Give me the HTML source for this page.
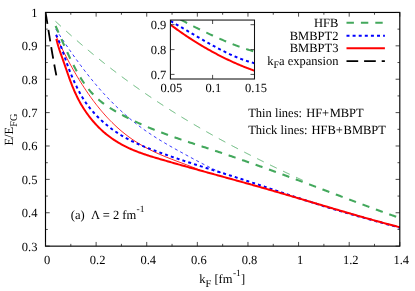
<!DOCTYPE html>
<html><head><meta charset="utf-8"><title>chart</title>
<style>html,body{margin:0;padding:0;background:#fff;}body{width:415px;height:291px;overflow:hidden;font-family:"Liberation Serif",serif;}</style></head>
<body>
<svg width="415" height="291" viewBox="0 0 415 291" style="display:block;will-change:transform">
<rect width="415" height="291" fill="#fff"/>
<defs><clipPath id="c"><rect x="45.5" y="12.45" width="354.3" height="233.70000000000002"/></clipPath><clipPath id="ci"><rect x="170.5" y="20" width="84" height="58.9"/></clipPath></defs>
<g fill="none" clip-path="url(#c)">
<path d="M55.50,21.32 L56.50,22.26 L57.50,23.18 L58.50,24.11 L59.50,25.03 L60.50,25.95 L61.50,26.87 L62.50,27.78 L63.50,28.69 L64.50,29.60 L65.50,30.51 L66.50,31.41 L67.50,32.30 L68.50,33.20 L69.50,34.09 L70.50,34.98 L71.50,35.86 L72.50,36.75 L73.50,37.63 L74.50,38.50 L75.50,39.38 L76.50,40.25 L77.50,41.11 L78.50,41.98 L79.50,42.84 L80.50,43.70 L81.50,44.55 L82.50,45.41 L83.50,46.26 L84.50,47.10 L85.50,47.95 L86.50,48.79 L87.50,49.63 L88.50,50.46 L89.50,51.29 L90.50,52.12 L91.50,52.95 L92.50,53.77 L93.50,54.59 L94.50,55.41 L95.50,56.23 L96.50,57.04 L97.50,57.85 L98.50,58.66 L99.50,59.46 L100.50,60.26 L101.50,61.06 L102.50,61.86 L103.50,62.65 L104.50,63.44 L105.50,64.23 L106.50,65.01 L107.50,65.80 L108.50,66.58 L109.50,67.35 L110.50,68.13 L111.50,68.90 L112.50,69.67 L113.50,70.43 L114.50,71.20 L115.50,71.96 L116.50,72.72 L117.50,73.47 L118.50,74.23 L119.50,74.98 L120.50,75.73 L121.50,76.47 L122.50,77.22 L123.50,77.96 L124.50,78.70 L125.50,79.43 L126.50,80.17 L127.50,80.90 L128.50,81.62 L129.50,82.35 L130.50,83.07 L131.50,83.80 L132.50,84.51 L133.50,85.23 L134.50,85.94 L135.50,86.66 L136.50,87.37 L137.50,88.07 L138.50,88.78 L139.50,89.48 L140.50,90.18 L141.50,90.88 L142.50,91.57 L143.50,92.26 L144.50,92.95 L145.50,93.64 L146.50,94.33 L147.50,95.01 L148.50,95.69 L149.50,96.37 L150.50,97.05 L151.50,97.72 L152.50,98.40 L153.50,99.07 L154.50,99.74 L155.50,100.40 L156.50,101.07 L157.50,101.73 L158.50,102.39 L159.50,103.04 L160.50,103.70 L161.50,104.35 L162.50,105.00 L163.50,105.65 L164.50,106.30 L165.50,106.94 L166.50,107.59 L167.50,108.23 L168.50,108.87 L169.50,109.50 L170.50,110.14 L171.50,110.77 L172.50,111.40 L173.50,112.03 L174.50,112.65 L175.50,113.28 L176.50,113.90 L177.50,114.52 L178.50,115.14 L179.50,115.76 L180.50,116.37 L181.50,116.99 L182.50,117.60 L183.50,118.21 L184.50,118.81 L185.50,119.42 L186.50,120.02 L187.50,120.62 L188.50,121.22 L189.50,121.82 L190.50,122.42 L191.50,123.01 L192.50,123.60 L193.50,124.20 L194.50,124.78 L195.50,125.37 L196.50,125.96 L197.50,126.54 L198.50,127.12 L199.50,127.70 L200.50,128.28 L201.50,128.86 L202.50,129.43 L203.50,130.01 L204.50,130.58 L205.50,131.15 L206.50,131.72 L207.50,132.29 L208.50,132.85 L209.50,133.42 L210.50,133.98 L211.50,134.54 L212.50,135.10 L213.50,135.65 L214.50,136.21 L215.50,136.76 L216.50,137.32 L217.50,137.87 L218.50,138.42 L219.50,138.97 L220.50,139.51 L221.50,140.06 L222.50,140.60 L223.50,141.14 L224.50,141.68 L225.50,142.22 L226.50,142.76 L227.50,143.30 L228.50,143.83 L229.50,144.37 L230.50,144.90 L231.50,145.43 L232.50,145.96 L233.50,146.49 L234.50,147.01 L235.50,147.54 L236.50,148.06 L237.50,148.59 L238.50,149.11 L239.50,149.63 L240.50,150.15 L241.50,150.66 L242.50,151.18 L243.50,151.70 L244.50,152.21 L245.50,152.72 L246.50,153.23 L247.50,153.74 L248.50,154.25 L249.50,154.76 L250.50,155.27 L251.50,155.77 L252.50,156.28 L253.50,156.78 L254.50,157.28 L255.50,157.78 L256.50,158.28 L257.50,158.78 L258.50,159.28 L259.50,159.77 L260.50,160.27 L261.50,160.76 L262.50,161.25 L263.50,161.75 L264.50,162.24 L265.50,162.73 L266.50,163.22 L267.50,163.70 L268.50,164.19 L269.50,164.68 L270.50,165.16 L271.50,165.65 L272.50,166.13 L273.50,166.61 L274.50,167.09 L275.50,167.57 L276.50,168.05 L277.50,168.53 L278.50,169.01 L279.50,169.48 L280.50,169.96 L281.50,170.43 L282.50,170.91 L283.50,171.38 L284.50,171.85 L285.50,172.33 L286.50,172.80 L287.50,173.27 L288.50,173.74 L289.50,174.20 L290.50,174.67 L291.50,175.14 L292.50,175.60 L293.50,176.07 L294.50,176.53 L295.50,177.00 L296.50,177.46 L297.50,177.92 L298.50,178.39 L299.50,178.85 L300.50,179.31 L301.50,179.77 L302.50,180.23 L303.50,180.68 L304.50,181.14 L305.50,181.60 L306.00,181.83" stroke="#43A85C" stroke-width="0.85" stroke-dasharray="7.4 7"/>
<path d="M55.80,29.26 L56.80,30.81 L57.80,32.35 L58.80,33.89 L59.80,35.41 L60.80,36.94 L61.80,38.45 L62.80,39.95 L63.80,41.45 L64.80,42.94 L65.80,44.42 L66.80,45.89 L67.80,47.36 L68.80,48.81 L69.80,50.26 L70.80,51.70 L71.80,53.13 L72.80,54.55 L73.80,55.96 L74.80,57.36 L75.80,58.75 L76.80,60.14 L77.80,61.51 L78.80,62.87 L79.80,64.23 L80.80,65.57 L81.80,66.91 L82.80,68.23 L83.80,69.55 L84.80,70.85 L85.80,72.15 L86.80,73.43 L87.80,74.71 L88.80,75.97 L89.80,77.22 L90.80,78.47 L91.80,79.70 L92.80,80.92 L93.80,82.13 L94.80,83.32 L95.80,84.51 L96.80,85.69 L97.80,86.85 L98.80,88.00 L99.80,89.15 L100.80,90.28 L101.80,91.40 L102.80,92.51 L103.80,93.61 L104.80,94.70 L105.80,95.78 L106.80,96.85 L107.80,97.90 L108.80,98.95 L109.80,99.99 L110.80,101.02 L111.80,102.03 L112.80,103.04 L113.80,104.03 L114.80,105.02 L115.80,106.00 L116.80,106.96 L117.80,107.92 L118.80,108.86 L119.80,109.80 L120.80,110.73 L121.80,111.64 L122.80,112.55 L123.80,113.45 L124.80,114.34 L125.80,115.22 L126.80,116.08 L127.80,116.94 L128.80,117.79 L129.80,118.64 L130.80,119.47 L131.80,120.29 L132.80,121.10 L133.80,121.91 L134.80,122.70 L135.80,123.49 L136.80,124.27 L137.80,125.04 L138.80,125.80 L139.80,126.55 L140.80,127.29 L141.80,128.02 L142.80,128.75 L143.80,129.47 L144.80,130.18 L145.80,130.88 L146.80,131.58 L147.80,132.26 L148.80,132.94 L149.80,133.62 L150.80,134.29 L151.80,134.95 L152.80,135.60 L153.80,136.25 L154.80,136.89 L155.80,137.53 L156.80,138.16 L157.80,138.78 L158.80,139.40 L159.80,140.02 L160.80,140.63 L161.80,141.23 L162.80,141.83 L163.80,142.43 L164.80,143.02 L165.80,143.61 L166.80,144.19 L167.80,144.77 L168.80,145.35 L169.80,145.92 L170.80,146.50 L171.80,147.06 L172.80,147.63 L173.80,148.19 L174.80,148.75 L175.80,149.31 L176.80,149.86 L177.80,150.42 L178.80,150.97 L179.80,151.52 L180.80,152.07 L181.80,152.62 L182.80,153.16 L183.80,153.71 L184.80,154.26 L185.80,154.80 L186.80,155.35 L187.80,155.89 L188.80,156.43 L189.80,156.97 L190.80,157.52 L191.80,158.06 L192.80,158.59 L193.80,159.13 L194.80,159.67 L195.80,160.20 L196.80,160.73 L197.80,161.26 L198.80,161.79 L199.80,162.31 L200.80,162.83 L201.80,163.35 L202.80,163.87 L203.80,164.38 L204.80,164.89 L205.80,165.39 L206.80,165.89 L207.80,166.39 L208.80,166.89 L209.80,167.38 L210.80,167.86 L211.80,168.35 L212.80,168.82 L213.80,169.30 L214.80,169.76 L215.80,170.23 L216.80,170.68 L217.80,171.14 L218.80,171.58 L219.80,172.03 L220.80,172.46 L221.80,172.89 L222.80,173.32 L223.80,173.73 L224.80,174.14 L225.00,174.23" stroke="#0000FF" stroke-width="0.85" stroke-dasharray="3 3.1"/>
<path d="M56.00,35.98 L57.00,38.13 L58.00,40.26 L59.00,42.36 L60.00,44.44 L61.00,46.50 L62.00,48.53 L63.00,50.54 L64.00,52.52 L65.00,54.48 L66.00,56.42 L67.00,58.33 L68.00,60.22 L69.00,62.09 L70.00,63.93 L71.00,65.75 L72.00,67.55 L73.00,69.32 L74.00,71.08 L75.00,72.81 L76.00,74.51 L77.00,76.20 L78.00,77.86 L79.00,79.51 L80.00,81.13 L81.00,82.73 L82.00,84.31 L83.00,85.86 L84.00,87.40 L85.00,88.91 L86.00,90.41 L87.00,91.88 L88.00,93.34 L89.00,94.77 L90.00,96.18 L91.00,97.57 L92.00,98.95 L93.00,100.30 L94.00,101.63 L95.00,102.95 L96.00,104.24 L97.00,105.51 L98.00,106.77 L99.00,108.01 L100.00,109.23 L101.00,110.43 L102.00,111.61 L103.00,112.77 L104.00,113.91 L105.00,115.04 L106.00,116.15 L107.00,117.24 L108.00,118.31 L109.00,119.37 L110.00,120.40 L111.00,121.42 L112.00,122.43 L113.00,123.41 L114.00,124.38 L115.00,125.34 L116.00,126.27 L117.00,127.19 L118.00,128.10 L119.00,128.98 L120.00,129.85 L121.00,130.71 L122.00,131.55 L123.00,132.37 L124.00,133.18 L125.00,133.98 L126.00,134.76 L127.00,135.52 L128.00,136.28 L129.00,137.01 L130.00,137.74 L131.00,138.45 L132.00,139.15 L133.00,139.83 L134.00,140.51 L135.00,141.17 L136.00,141.81 L137.00,142.45 L138.00,143.08 L139.00,143.69 L140.00,144.29 L141.00,144.89 L142.00,145.47 L143.00,146.04 L144.00,146.60 L145.00,147.15 L146.00,147.70 L147.00,148.23 L148.00,148.75 L149.00,149.27 L150.00,149.78 L151.00,150.28 L152.00,150.77 L153.00,151.25 L154.00,151.73 L155.00,152.20 L156.00,152.66 L157.00,153.12 L158.00,153.57 L159.00,154.01 L160.00,154.45 L161.00,154.88 L162.00,155.31 L163.00,155.73 L164.00,156.15 L165.00,156.56 L166.00,156.97 L167.00,157.37 L168.00,157.77 L169.00,158.17 L170.00,158.57 L171.00,158.96 L172.00,159.34 L173.00,159.73 L174.00,160.11 L175.00,160.50 L176.00,160.88 L177.00,161.25 L178.00,161.63 L179.00,162.01 L180.00,162.38 L181.00,162.76 L182.00,163.13 L183.00,163.51 L184.00,163.89 L185.00,164.26 L186.00,164.64 L187.00,165.02 L188.00,165.40 L189.00,165.78 L190.00,166.16 L191.00,166.55 L192.00,166.94 L193.00,167.33 L194.00,167.72 L195.00,168.12 L196.00,168.52 L197.00,168.92 L198.00,169.33 L199.00,169.74 L200.00,170.16" stroke="#FF0000" stroke-width="0.85"/>
<path d="M55.60,26.01 L56.60,28.27 L57.60,30.54 L58.60,32.81 L59.60,35.09 L60.60,37.37 L61.60,39.64 L62.60,41.90 L63.60,44.16 L64.60,46.39 L65.60,48.61 L66.60,50.81 L67.60,52.97 L68.60,55.12 L69.60,57.23 L70.60,59.30 L71.60,61.35 L72.60,63.35 L73.60,65.32 L74.60,67.25 L75.60,69.13 L76.60,70.97 L77.60,72.77 L78.60,74.51 L79.60,76.21 L80.60,77.85 L81.60,79.44 L82.60,80.98 L83.60,82.47 L84.60,83.90 L85.60,85.29 L86.60,86.63 L87.60,87.93 L88.60,89.18 L89.60,90.39 L90.60,91.56 L91.60,92.69 L92.60,93.78 L93.60,94.83 L94.60,95.85 L95.60,96.83 L96.60,97.78 L97.60,98.70 L98.60,99.58 L99.60,100.44 L100.60,101.27 L101.60,102.07 L102.60,102.85 L103.60,103.60 L104.60,104.34 L105.60,105.05 L106.60,105.74 L107.60,106.41 L108.60,107.07 L109.60,107.71 L110.60,108.34 L111.60,108.95 L112.60,109.55 L113.60,110.15 L114.60,110.73 L115.60,111.31 L116.60,111.88 L117.60,112.44 L118.60,113.00 L119.60,113.55 L120.60,114.10 L121.60,114.64 L122.60,115.18 L123.60,115.71 L124.60,116.24 L125.60,116.76 L126.60,117.27 L127.60,117.78 L128.60,118.29 L129.60,118.79 L130.60,119.28 L131.60,119.77 L132.60,120.26 L133.60,120.74 L134.60,121.22 L135.60,121.69 L136.60,122.16 L137.60,122.62 L138.60,123.08 L139.60,123.54 L140.60,123.99 L141.60,124.43 L142.60,124.87 L143.60,125.31 L144.60,125.75 L145.60,126.18 L146.60,126.60 L147.60,127.03 L148.60,127.45 L149.60,127.86 L150.60,128.28 L151.60,128.69 L152.60,129.09 L153.60,129.49 L154.60,129.89 L155.60,130.29 L156.60,130.68 L157.60,131.07 L158.60,131.46 L159.60,131.84 L160.60,132.22 L161.60,132.60 L162.60,132.98 L163.60,133.35 L164.60,133.72 L165.60,134.09 L166.60,134.46 L167.60,134.82 L168.60,135.18 L169.60,135.54 L170.60,135.90 L171.60,136.26 L172.60,136.61 L173.60,136.96 L174.60,137.31 L175.60,137.66 L176.60,138.00 L177.60,138.35 L178.60,138.69 L179.60,139.03 L180.60,139.37 L181.60,139.71 L182.60,140.05 L183.60,140.39 L184.60,140.72 L185.60,141.05 L186.60,141.39 L187.60,141.72 L188.60,142.05 L189.60,142.38 L190.60,142.71 L191.60,143.04 L192.60,143.37 L193.60,143.70 L194.60,144.03 L195.60,144.35 L196.60,144.68 L197.60,145.01 L198.60,145.33 L199.60,145.66 L200.60,145.99 L201.60,146.31 L202.60,146.64 L203.60,146.97 L204.60,147.29 L205.60,147.62 L206.60,147.95 L207.60,148.28 L208.60,148.61 L209.60,148.94 L210.60,149.27 L211.60,149.60 L212.60,149.93 L213.60,150.26 L214.60,150.59 L215.60,150.93 L216.60,151.26 L217.60,151.60 L218.60,151.93 L219.60,152.27 L220.60,152.60 L221.60,152.94 L222.60,153.28 L223.60,153.62 L224.60,153.95 L225.60,154.29 L226.60,154.63 L227.60,154.97 L228.60,155.31 L229.60,155.66 L230.60,156.00 L231.60,156.34 L232.60,156.68 L233.60,157.03 L234.60,157.37 L235.60,157.72 L236.60,158.06 L237.60,158.41 L238.60,158.76 L239.60,159.10 L240.60,159.45 L241.60,159.80 L242.60,160.15 L243.60,160.50 L244.60,160.84 L245.60,161.19 L246.60,161.55 L247.60,161.90 L248.60,162.25 L249.60,162.60 L250.60,162.95 L251.60,163.31 L252.60,163.66 L253.60,164.01 L254.60,164.37 L255.60,164.72 L256.60,165.08 L257.60,165.43 L258.60,165.79 L259.60,166.15 L260.60,166.51 L261.60,166.86 L262.60,167.22 L263.60,167.58 L264.60,167.94 L265.60,168.30 L266.60,168.66 L267.60,169.02 L268.60,169.38 L269.60,169.74 L270.60,170.10 L271.60,170.47 L272.60,170.83 L273.60,171.19 L274.60,171.55 L275.60,171.92 L276.60,172.28 L277.60,172.65 L278.60,173.01 L279.60,173.38 L280.60,173.74 L281.60,174.11 L282.60,174.48 L283.60,174.84 L284.60,175.21 L285.60,175.58 L286.60,175.95 L287.60,176.32 L288.60,176.68 L289.60,177.05 L290.60,177.42 L291.60,177.79 L292.60,178.16 L293.60,178.53 L294.60,178.90 L295.60,179.28 L296.60,179.65 L297.60,180.02 L298.60,180.39 L299.60,180.76 L300.60,181.14 L301.60,181.51 L302.60,181.88 L303.60,182.26 L304.60,182.63 L305.60,183.01 L306.60,183.38 L307.60,183.76 L308.60,184.13 L309.60,184.51 L310.60,184.88 L311.60,185.26 L312.60,185.64 L313.60,186.01 L314.60,186.39 L315.60,186.77 L316.60,187.14 L317.60,187.52 L318.60,187.90 L319.60,188.28 L320.60,188.65 L321.60,189.03 L322.60,189.41 L323.60,189.79 L324.60,190.17 L325.60,190.55 L326.60,190.93 L327.60,191.30 L328.60,191.68 L329.60,192.06 L330.60,192.44 L331.60,192.82 L332.60,193.20 L333.60,193.58 L334.60,193.96 L335.60,194.34 L336.60,194.72 L337.60,195.09 L338.60,195.47 L339.60,195.85 L340.60,196.23 L341.60,196.61 L342.60,196.99 L343.60,197.37 L344.60,197.74 L345.60,198.12 L346.60,198.50 L347.60,198.88 L348.60,199.25 L349.60,199.63 L350.60,200.01 L351.60,200.39 L352.60,200.76 L353.60,201.14 L354.60,201.51 L355.60,201.89 L356.60,202.26 L357.60,202.64 L358.60,203.01 L359.60,203.39 L360.60,203.76 L361.60,204.14 L362.60,204.51 L363.60,204.88 L364.60,205.26 L365.60,205.63 L366.60,206.00 L367.60,206.37 L368.60,206.74 L369.60,207.11 L370.60,207.48 L371.60,207.85 L372.60,208.22 L373.60,208.59 L374.60,208.96 L375.60,209.32 L376.60,209.69 L377.60,210.06 L378.60,210.42 L379.60,210.79 L380.60,211.15 L381.60,211.52 L382.60,211.88 L383.60,212.24 L384.60,212.60 L385.60,212.97 L386.60,213.33 L387.60,213.69 L388.60,214.05 L389.60,214.40 L390.60,214.76 L391.60,215.12 L392.60,215.48 L393.60,215.83 L394.60,216.19 L395.60,216.54 L396.60,216.89 L397.60,217.25 L398.60,217.60 L399.60,217.95 L399.80,218.02" stroke="#43A85C" stroke-width="2.1" stroke-dasharray="7.3 6.96"/>
<path d="M56.10,34.74 L57.10,36.86 L58.10,39.15 L59.10,41.59 L60.10,44.17 L61.10,46.84 L62.10,49.61 L63.10,52.42 L64.10,55.28 L65.10,58.15 L66.10,61.00 L67.10,63.83 L68.10,66.61 L69.10,69.31 L70.10,71.93 L71.10,74.44 L72.10,76.83 L73.10,79.13 L74.10,81.35 L75.10,83.52 L76.10,85.62 L77.10,87.66 L78.10,89.64 L79.10,91.55 L80.10,93.40 L81.10,95.18 L82.10,96.89 L83.10,98.53 L84.10,100.10 L85.10,101.60 L86.10,103.05 L87.10,104.43 L88.10,105.78 L89.10,107.08 L90.10,108.34 L91.10,109.57 L92.10,110.76 L93.10,111.92 L94.10,113.04 L95.10,114.14 L96.10,115.21 L97.10,116.24 L98.10,117.26 L99.10,118.24 L100.10,119.20 L101.10,120.14 L102.10,121.06 L103.10,121.95 L104.10,122.83 L105.10,123.69 L106.10,124.53 L107.10,125.35 L108.10,126.16 L109.10,126.95 L110.10,127.72 L111.10,128.48 L112.10,129.22 L113.10,129.94 L114.10,130.65 L115.10,131.35 L116.10,132.03 L117.10,132.70 L118.10,133.35 L119.10,133.99 L120.10,134.62 L121.10,135.23 L122.10,135.84 L123.10,136.43 L124.10,137.00 L125.10,137.57 L126.10,138.12 L127.10,138.67 L128.10,139.20 L129.10,139.72 L130.10,140.24 L131.10,140.74 L132.10,141.24 L133.10,141.72 L134.10,142.20 L135.10,142.67 L136.10,143.13 L137.10,143.58 L138.10,144.03 L139.10,144.46 L140.10,144.90 L141.10,145.32 L142.10,145.74 L143.10,146.15 L144.10,146.56 L145.10,146.97 L146.10,147.37 L147.10,147.76 L148.10,148.15 L149.10,148.54 L150.10,148.92 L151.10,149.30 L152.10,149.68 L153.10,150.05 L154.10,150.42 L155.10,150.79 L156.10,151.16 L157.10,151.53 L158.10,151.89 L159.10,152.26 L160.10,152.62 L161.10,152.98 L162.10,153.34 L163.10,153.69 L164.10,154.05 L165.10,154.40 L166.10,154.75 L167.10,155.10 L168.10,155.45 L169.10,155.80 L170.10,156.15 L171.10,156.49 L172.10,156.84 L173.10,157.18 L174.10,157.52 L175.10,157.86 L176.10,158.20 L177.10,158.53 L178.10,158.87 L179.10,159.20 L180.10,159.54 L181.10,159.87 L182.10,160.20 L183.10,160.53 L184.10,160.86 L185.10,161.19 L186.10,161.52 L187.10,161.85 L188.10,162.17 L189.10,162.50 L190.10,162.82 L191.10,163.15 L192.10,163.47 L193.10,163.79 L194.10,164.11 L195.10,164.43 L196.10,164.75 L197.10,165.07 L198.10,165.39 L199.10,165.71 L200.10,166.03 L201.10,166.34 L202.10,166.66 L203.10,166.98 L204.10,167.29 L205.10,167.61 L206.10,167.93 L207.10,168.24 L208.10,168.56 L209.10,168.87 L210.10,169.19 L211.10,169.50 L212.10,169.81 L213.10,170.13 L214.10,170.44 L215.10,170.76 L216.10,171.07 L217.10,171.38 L218.10,171.70 L219.10,172.01 L220.10,172.33 L221.10,172.64 L222.10,172.95 L223.10,173.27 L224.10,173.58 L225.10,173.90 L226.10,174.21 L227.10,174.53 L228.10,174.84 L229.10,175.16 L230.10,175.48 L231.10,175.79 L232.10,176.11 L233.10,176.43 L234.10,176.75 L235.10,177.07 L236.10,177.39 L237.10,177.71 L238.10,178.03 L239.10,178.35 L240.10,178.67 L241.10,178.99 L242.10,179.32 L243.10,179.64 L244.10,179.97 L245.10,180.29 L246.10,180.62 L247.10,180.95 L248.10,181.27 L249.10,181.60 L250.10,181.93 L251.10,182.26 L252.10,182.59 L253.10,182.92 L254.10,183.25 L255.10,183.58 L256.10,183.91 L257.10,184.24 L258.10,184.57 L259.10,184.90 L260.10,185.24 L261.10,185.57 L262.10,185.90 L263.10,186.24 L264.10,186.57 L265.10,186.90 L266.10,187.24 L267.10,187.57 L268.10,187.91 L269.10,188.24 L270.10,188.58 L271.10,188.91 L272.10,189.25 L273.10,189.58 L274.10,189.92 L275.10,190.25 L276.10,190.59 L277.10,190.92 L278.10,191.25 L279.10,191.59 L280.10,191.92 L281.10,192.26 L282.10,192.59 L283.10,192.93 L284.10,193.26 L285.10,193.60 L286.10,193.93 L287.10,194.26 L288.10,194.60 L289.10,194.93 L290.10,195.26 L291.10,195.59 L292.10,195.93 L293.10,196.26 L294.10,196.59 L295.10,196.92 L296.10,197.25 L297.10,197.58 L298.10,197.91 L299.10,198.24 L300.10,198.57 L301.10,198.90 L302.10,199.22 L303.10,199.55 L304.10,199.88 L305.10,200.20 L306.10,200.53 L307.10,200.85 L308.10,201.18 L309.10,201.50 L310.10,201.82 L311.10,202.14 L312.10,202.46 L313.10,202.78 L314.10,203.10 L315.10,203.42 L316.10,203.74 L317.10,204.06 L318.10,204.37 L319.10,204.69 L320.10,205.00 L321.10,205.32 L322.10,205.63 L323.10,205.94 L324.10,206.25 L325.10,206.56 L326.10,206.87 L327.10,207.18 L328.10,207.48 L329.10,207.79 L330.10,208.09 L331.10,208.39 L332.10,208.70 L333.10,209.00 L334.10,209.30 L335.10,209.59 L336.10,209.89 L337.10,210.19 L338.10,210.48 L339.10,210.78 L340.10,211.07 L341.10,211.36 L342.10,211.65 L343.10,211.94 L344.10,212.23 L345.10,212.52 L346.10,212.81 L347.10,213.10 L348.10,213.38 L349.10,213.67 L350.10,213.95 L351.10,214.23 L352.10,214.52 L353.10,214.80 L354.10,215.08 L355.10,215.36 L356.10,215.64 L357.10,215.92 L358.10,216.20 L359.10,216.48 L360.10,216.76 L361.10,217.04 L362.10,217.32 L363.10,217.59 L364.10,217.87 L365.10,218.15 L366.10,218.43 L367.10,218.70 L368.10,218.98 L369.10,219.25 L370.10,219.53 L371.10,219.80 L372.10,220.08 L373.10,220.35 L374.10,220.63 L375.10,220.90 L376.10,221.18 L377.10,221.45 L378.10,221.73 L379.10,222.00 L380.10,222.28 L381.10,222.55 L382.10,222.83 L383.10,223.10 L384.10,223.38 L385.10,223.66 L386.10,223.93 L387.10,224.21 L388.10,224.49 L389.10,224.76 L390.10,225.04 L391.10,225.32 L392.10,225.60 L393.10,225.87 L394.10,226.15 L395.10,226.43 L396.10,226.71 L397.10,226.99 L398.10,227.27 L399.10,227.55 L399.80,227.75" stroke="#0000FF" stroke-width="2" stroke-dasharray="3 3.1"/>
<path d="M56.30,39.01 L57.30,42.84 L58.30,46.30 L59.30,49.46 L60.30,52.41 L61.30,55.24 L62.30,58.03 L63.30,60.86 L64.30,63.73 L65.30,66.62 L66.30,69.53 L67.30,72.42 L68.30,75.28 L69.30,78.09 L70.30,80.83 L71.30,83.47 L72.30,86.01 L73.30,88.45 L74.30,90.78 L75.30,93.02 L76.30,95.17 L77.30,97.23 L78.30,99.20 L79.30,101.10 L80.30,102.92 L81.30,104.67 L82.30,106.35 L83.30,107.97 L84.30,109.53 L85.30,111.03 L86.30,112.48 L87.30,113.88 L88.30,115.24 L89.30,116.56 L90.30,117.84 L91.30,119.09 L92.30,120.30 L93.30,121.48 L94.30,122.63 L95.30,123.75 L96.30,124.84 L97.30,125.90 L98.30,126.93 L99.30,127.93 L100.30,128.91 L101.30,129.86 L102.30,130.78 L103.30,131.67 L104.30,132.55 L105.30,133.39 L106.30,134.22 L107.30,135.02 L108.30,135.80 L109.30,136.56 L110.30,137.30 L111.30,138.02 L112.30,138.72 L113.30,139.40 L114.30,140.06 L115.30,140.71 L116.30,141.34 L117.30,141.96 L118.30,142.56 L119.30,143.14 L120.30,143.72 L121.30,144.27 L122.30,144.82 L123.30,145.36 L124.30,145.88 L125.30,146.39 L126.30,146.88 L127.30,147.37 L128.30,147.85 L129.30,148.31 L130.30,148.77 L131.30,149.21 L132.30,149.65 L133.30,150.07 L134.30,150.49 L135.30,150.89 L136.30,151.29 L137.30,151.68 L138.30,152.07 L139.30,152.44 L140.30,152.81 L141.30,153.17 L142.30,153.53 L143.30,153.88 L144.30,154.22 L145.30,154.56 L146.30,154.89 L147.30,155.22 L148.30,155.54 L149.30,155.86 L150.30,156.17 L151.30,156.48 L152.30,156.79 L153.30,157.10 L154.30,157.40 L155.30,157.70 L156.30,157.99 L157.30,158.29 L158.30,158.58 L159.30,158.88 L160.30,159.17 L161.30,159.46 L162.30,159.75 L163.30,160.04 L164.30,160.33 L165.30,160.62 L166.30,160.91 L167.30,161.20 L168.30,161.48 L169.30,161.77 L170.30,162.06 L171.30,162.35 L172.30,162.63 L173.30,162.92 L174.30,163.20 L175.30,163.49 L176.30,163.77 L177.30,164.05 L178.30,164.34 L179.30,164.62 L180.30,164.90 L181.30,165.19 L182.30,165.47 L183.30,165.75 L184.30,166.03 L185.30,166.31 L186.30,166.59 L187.30,166.87 L188.30,167.15 L189.30,167.43 L190.30,167.71 L191.30,167.99 L192.30,168.27 L193.30,168.55 L194.30,168.83 L195.30,169.10 L196.30,169.38 L197.30,169.66 L198.30,169.94 L199.30,170.22 L200.30,170.49 L201.30,170.77 L202.30,171.05 L203.30,171.32 L204.30,171.60 L205.30,171.88 L206.30,172.15 L207.30,172.43 L208.30,172.70 L209.30,172.98 L210.30,173.26 L211.30,173.53 L212.30,173.81 L213.30,174.08 L214.30,174.36 L215.30,174.63 L216.30,174.91 L217.30,175.19 L218.30,175.46 L219.30,175.74 L220.30,176.01 L221.30,176.29 L222.30,176.56 L223.30,176.84 L224.30,177.11 L225.30,177.39 L226.30,177.67 L227.30,177.94 L228.30,178.22 L229.30,178.49 L230.30,178.77 L231.30,179.05 L232.30,179.32 L233.30,179.60 L234.30,179.88 L235.30,180.15 L236.30,180.43 L237.30,180.71 L238.30,180.99 L239.30,181.26 L240.30,181.54 L241.30,181.82 L242.30,182.10 L243.30,182.38 L244.30,182.65 L245.30,182.93 L246.30,183.21 L247.30,183.49 L248.30,183.77 L249.30,184.05 L250.30,184.33 L251.30,184.61 L252.30,184.90 L253.30,185.18 L254.30,185.46 L255.30,185.74 L256.30,186.02 L257.30,186.31 L258.30,186.59 L259.30,186.87 L260.30,187.16 L261.30,187.44 L262.30,187.73 L263.30,188.01 L264.30,188.30 L265.30,188.58 L266.30,188.87 L267.30,189.16 L268.30,189.45 L269.30,189.73 L270.30,190.02 L271.30,190.31 L272.30,190.60 L273.30,190.89 L274.30,191.18 L275.30,191.47 L276.30,191.76 L277.30,192.05 L278.30,192.34 L279.30,192.64 L280.30,192.93 L281.30,193.22 L282.30,193.51 L283.30,193.81 L284.30,194.10 L285.30,194.39 L286.30,194.69 L287.30,194.98 L288.30,195.27 L289.30,195.57 L290.30,195.86 L291.30,196.16 L292.30,196.45 L293.30,196.75 L294.30,197.04 L295.30,197.34 L296.30,197.64 L297.30,197.93 L298.30,198.23 L299.30,198.52 L300.30,198.82 L301.30,199.12 L302.30,199.41 L303.30,199.71 L304.30,200.01 L305.30,200.30 L306.30,200.60 L307.30,200.90 L308.30,201.20 L309.30,201.49 L310.30,201.79 L311.30,202.09 L312.30,202.38 L313.30,202.68 L314.30,202.98 L315.30,203.27 L316.30,203.57 L317.30,203.87 L318.30,204.17 L319.30,204.46 L320.30,204.76 L321.30,205.06 L322.30,205.35 L323.30,205.65 L324.30,205.95 L325.30,206.24 L326.30,206.54 L327.30,206.83 L328.30,207.13 L329.30,207.42 L330.30,207.72 L331.30,208.02 L332.30,208.31 L333.30,208.61 L334.30,208.90 L335.30,209.19 L336.30,209.49 L337.30,209.78 L338.30,210.08 L339.30,210.37 L340.30,210.66 L341.30,210.96 L342.30,211.25 L343.30,211.54 L344.30,211.83 L345.30,212.12 L346.30,212.42 L347.30,212.71 L348.30,213.00 L349.30,213.29 L350.30,213.58 L351.30,213.87 L352.30,214.16 L353.30,214.45 L354.30,214.73 L355.30,215.02 L356.30,215.31 L357.30,215.60 L358.30,215.88 L359.30,216.17 L360.30,216.45 L361.30,216.74 L362.30,217.02 L363.30,217.31 L364.30,217.59 L365.30,217.87 L366.30,218.16 L367.30,218.44 L368.30,218.72 L369.30,219.00 L370.30,219.28 L371.30,219.56 L372.30,219.84 L373.30,220.12 L374.30,220.40 L375.30,220.68 L376.30,220.95 L377.30,221.23 L378.30,221.50 L379.30,221.78 L380.30,222.05 L381.30,222.33 L382.30,222.60 L383.30,222.87 L384.30,223.14 L385.30,223.41 L386.30,223.68 L387.30,223.95 L388.30,224.22 L389.30,224.49 L390.30,224.76 L391.30,225.02 L392.30,225.29 L393.30,225.55 L394.30,225.82 L395.30,226.08 L396.30,226.34 L397.30,226.60 L398.30,226.86 L399.30,227.12 L399.80,227.25" stroke="#FF0000" stroke-width="2"/>
<path d="M45.55,12.40 L45.72,13.47 L45.90,14.54 L46.07,15.60 L46.25,16.67 L46.43,17.74 L46.60,18.81 L46.77,19.87 L46.95,20.94 L47.12,22.01 L47.29,23.08 L47.47,24.15 L47.64,25.21 L47.81,26.28 L47.99,27.35 L48.16,28.42 L48.33,29.48 L48.50,30.55 L48.68,31.62 L48.85,32.69 L49.02,33.76 L49.19,34.82 L49.37,35.89 L49.54,36.96 L49.72,38.03 L49.89,39.09 L50.06,40.16 L50.24,41.23 L50.42,42.30 L50.59,43.37 L50.77,44.43 L50.95,45.50 L51.12,46.57 L51.30,47.64 L51.48,48.71 L51.66,49.77 L51.84,50.84 L52.03,51.91 L52.21,52.98 L52.39,54.04 L52.58,55.11 L52.76,56.18 L52.95,57.25 L53.14,58.32 L53.33,59.38 L53.52,60.45 L53.71,61.52 L53.90,62.59 L54.10,63.65 L54.29,64.72 L54.49,65.79 L54.69,66.86 L54.89,67.93 L55.09,68.99 L55.29,70.06 L55.49,71.13 L55.70,72.20 L55.91,73.26 L56.12,74.33 L56.33,75.40" stroke="#000" stroke-width="1.8" stroke-dasharray="11.7 5.9"/>
</g>
<rect x="170.5" y="20" width="84" height="58.9" fill="#fff" stroke="none"/>
<g fill="none" clip-path="url(#ci)">
<path d="M180.50,19.67 L181.50,20.19 L182.50,20.70 L183.50,21.21 L184.50,21.72 L185.50,22.23 L186.50,22.74 L187.50,23.25 L188.50,23.76 L189.50,24.26 L190.50,24.77 L191.50,25.27 L192.50,25.78 L193.50,26.28 L194.50,26.78 L195.50,27.28 L196.50,27.78 L197.50,28.27 L198.50,28.77 L199.50,29.26 L200.50,29.75 L201.50,30.24 L202.50,30.73 L203.50,31.21 L204.50,31.70 L205.50,32.18 L206.50,32.66 L207.50,33.13 L208.50,33.61 L209.50,34.08 L210.50,34.55 L211.50,35.01 L212.50,35.48 L213.50,35.94 L214.50,36.39 L215.50,36.85 L216.50,37.30 L217.50,37.75 L218.50,38.20 L219.50,38.64 L220.50,39.08 L221.50,39.52 L222.50,39.95 L223.50,40.38 L224.50,40.81 L225.50,41.23 L226.50,41.65 L227.50,42.06 L228.50,42.47 L229.50,42.88 L230.50,43.28 L231.50,43.68 L232.50,44.08 L233.50,44.47 L234.50,44.86 L235.50,45.24 L236.50,45.62 L237.50,45.99 L238.50,46.36 L239.50,46.72 L240.50,47.08 L241.50,47.44 L242.50,47.79 L243.50,48.13 L244.50,48.47 L245.50,48.81 L246.50,49.14 L247.50,49.46 L248.50,49.78 L249.50,50.09 L250.50,50.40 L251.50,50.71 L252.50,51.00 L253.50,51.29 L254.50,51.58" stroke="#43A85C" stroke-width="2" stroke-dasharray="7.4 7"/>
<path d="M170.50,21.12 L171.50,21.68 L172.50,22.24 L173.50,22.80 L174.50,23.37 L175.50,23.94 L176.50,24.51 L177.50,25.09 L178.50,25.67 L179.50,26.24 L180.50,26.83 L181.50,27.41 L182.50,27.99 L183.50,28.58 L184.50,29.17 L185.50,29.75 L186.50,30.34 L187.50,30.93 L188.50,31.52 L189.50,32.11 L190.50,32.70 L191.50,33.29 L192.50,33.88 L193.50,34.47 L194.50,35.06 L195.50,35.65 L196.50,36.24 L197.50,36.83 L198.50,37.41 L199.50,38.00 L200.50,38.58 L201.50,39.16 L202.50,39.74 L203.50,40.32 L204.50,40.90 L205.50,41.47 L206.50,42.04 L207.50,42.61 L208.50,43.17 L209.50,43.73 L210.50,44.29 L211.50,44.85 L212.50,45.40 L213.50,45.95 L214.50,46.49 L215.50,47.03 L216.50,47.57 L217.50,48.10 L218.50,48.63 L219.50,49.15 L220.50,49.67 L221.50,50.18 L222.50,50.69 L223.50,51.19 L224.50,51.69 L225.50,52.18 L226.50,52.66 L227.50,53.14 L228.50,53.61 L229.50,54.08 L230.50,54.54 L231.50,54.99 L232.50,55.44 L233.50,55.88 L234.50,56.31 L235.50,56.73 L236.50,57.15 L237.50,57.56 L238.50,57.96 L239.50,58.35 L240.50,58.74 L241.50,59.11 L242.50,59.48 L243.50,59.84 L244.50,60.19 L245.50,60.53 L246.50,60.86 L247.50,61.18 L248.50,61.49 L249.50,61.80 L250.50,62.09 L251.50,62.37 L252.50,62.64 L253.50,62.91 L254.50,63.16" stroke="#0000FF" stroke-width="2" stroke-dasharray="3 3.1"/>
<path d="M170.50,24.74 L171.50,25.48 L172.50,26.22 L173.50,26.95 L174.50,27.68 L175.50,28.41 L176.50,29.13 L177.50,29.84 L178.50,30.55 L179.50,31.26 L180.50,31.96 L181.50,32.65 L182.50,33.34 L183.50,34.03 L184.50,34.71 L185.50,35.39 L186.50,36.06 L187.50,36.72 L188.50,37.39 L189.50,38.04 L190.50,38.69 L191.50,39.34 L192.50,39.98 L193.50,40.62 L194.50,41.26 L195.50,41.88 L196.50,42.51 L197.50,43.13 L198.50,43.74 L199.50,44.35 L200.50,44.95 L201.50,45.55 L202.50,46.15 L203.50,46.74 L204.50,47.33 L205.50,47.91 L206.50,48.48 L207.50,49.06 L208.50,49.62 L209.50,50.19 L210.50,50.74 L211.50,51.30 L212.50,51.84 L213.50,52.39 L214.50,52.93 L215.50,53.46 L216.50,53.99 L217.50,54.52 L218.50,55.04 L219.50,55.55 L220.50,56.07 L221.50,56.57 L222.50,57.07 L223.50,57.57 L224.50,58.06 L225.50,58.55 L226.50,59.04 L227.50,59.52 L228.50,59.99 L229.50,60.46 L230.50,60.93 L231.50,61.39 L232.50,61.84 L233.50,62.30 L234.50,62.74 L235.50,63.19 L236.50,63.62 L237.50,64.06 L238.50,64.49 L239.50,64.91 L240.50,65.33 L241.50,65.75 L242.50,66.16 L243.50,66.57 L244.50,66.97 L245.50,67.37 L246.50,67.76 L247.50,68.15 L248.50,68.53 L249.50,68.91 L250.50,69.29 L251.50,69.66 L252.50,70.03 L253.50,70.39 L254.50,70.75" stroke="#FF0000" stroke-width="2"/>
</g>
<rect x="170.4" y="20.05" width="84.1" height="58.95" fill="none" stroke="#111" stroke-width="1.05"/>
<path d="M170.5,24.7h4 M254.5,24.7h-4 M170.5,49.6h4 M254.5,49.6h-4 M170.5,74.4h4 M254.5,74.4h-4 M170.5,78.9v-4 M170.5,20v4 M212.6,78.9v-4 M212.6,20v4 M254.5,78.9v-4 M254.5,20v4" stroke="#111" stroke-width="0.75" fill="none"/>
<rect x="45.5" y="12.45" width="354.3" height="233.70000000000002" fill="none" stroke="#000" stroke-width="1.15"/>
<path d="M45.50,246.15v-4.2 M45.50,12.45v4.2 M70.81,246.15v-2.3 M70.81,12.45v2.3 M96.11,246.15v-4.2 M96.11,12.45v4.2 M121.42,246.15v-2.3 M121.42,12.45v2.3 M146.73,246.15v-4.2 M146.73,12.45v4.2 M172.04,246.15v-2.3 M172.04,12.45v2.3 M197.34,246.15v-4.2 M197.34,12.45v4.2 M222.65,246.15v-2.3 M222.65,12.45v2.3 M247.96,246.15v-4.2 M247.96,12.45v4.2 M273.26,246.15v-2.3 M273.26,12.45v2.3 M298.57,246.15v-4.2 M298.57,12.45v4.2 M323.88,246.15v-2.3 M323.88,12.45v2.3 M349.19,246.15v-4.2 M349.19,12.45v4.2 M374.49,246.15v-2.3 M374.49,12.45v2.3 M399.80,246.15v-4.2 M399.80,12.45v4.2 M45.5,246.15h4.2 M399.8,246.15h-4.2 M45.5,229.46h2.3 M399.8,229.46h-2.3 M45.5,212.76h4.2 M399.8,212.76h-4.2 M45.5,196.07h2.3 M399.8,196.07h-2.3 M45.5,179.38h4.2 M399.8,179.38h-4.2 M45.5,162.69h2.3 M399.8,162.69h-2.3 M45.5,145.99h4.2 M399.8,145.99h-4.2 M45.5,129.30h2.3 M399.8,129.30h-2.3 M45.5,112.61h4.2 M399.8,112.61h-4.2 M45.5,95.91h2.3 M399.8,95.91h-2.3 M45.5,79.22h4.2 M399.8,79.22h-4.2 M45.5,62.53h2.3 M399.8,62.53h-2.3 M45.5,45.84h4.2 M399.8,45.84h-4.2 M45.5,29.14h2.3 M399.8,29.14h-2.3 M45.5,12.45h4.2 M399.8,12.45h-4.2" stroke="#111" stroke-width="0.75" fill="none"/>
<g text-rendering="geometricPrecision" font-family="Liberation Serif, serif" font-size="12.5" fill="#000">
<text x="37.4" y="250.65" text-anchor="end">0.3</text>
<text x="37.4" y="217.26" text-anchor="end">0.4</text>
<text x="37.4" y="183.88" text-anchor="end">0.5</text>
<text x="37.4" y="150.49" text-anchor="end">0.6</text>
<text x="37.4" y="117.11" text-anchor="end">0.7</text>
<text x="37.4" y="83.72" text-anchor="end">0.8</text>
<text x="37.4" y="50.34" text-anchor="end">0.9</text>
<text x="37.4" y="16.95" text-anchor="end">1</text>
<text x="47.00" y="263.5" text-anchor="middle">0</text>
<text x="97.61" y="263.5" text-anchor="middle">0.2</text>
<text x="148.23" y="263.5" text-anchor="middle">0.4</text>
<text x="198.84" y="263.5" text-anchor="middle">0.6</text>
<text x="249.46" y="263.5" text-anchor="middle">0.8</text>
<text x="300.07" y="263.5" text-anchor="middle">1</text>
<text x="350.69" y="263.5" text-anchor="middle">1.2</text>
<text x="401.30" y="263.5" text-anchor="middle">1.4</text>
<text x="166.3" y="29.00" text-anchor="end">0.9</text>
<text x="166.3" y="53.90" text-anchor="end">0.8</text>
<text x="166.3" y="78.70" text-anchor="end">0.7</text>
<text x="171.4" y="92.3" text-anchor="middle">0.05</text>
<text x="213.4" y="92.3" text-anchor="middle">0.1</text>
<text x="256" y="92.3" text-anchor="middle">0.15</text>
<text x="338.4" y="26.7" text-anchor="end">HFB</text>
<text x="338.4" y="39.6" text-anchor="end">BMBPT2</text>
<text x="338.4" y="52.2" text-anchor="end">BMBPT3</text>
<text x="338.4" y="64.6" text-anchor="end">k<tspan font-size="10" dy="3.6">F</tspan><tspan dy="-3.6">a expansion</tspan></text>
<text x="248.2" y="117.3">Thin lines: <tspan dx="1">HF+</tspan><tspan dx="0.5">MBPT</tspan></text>
<text x="248.2" y="133.5">Thick lines: <tspan dx="0.8">HFB+</tspan><tspan dx="0.7">BMBPT</tspan></text>
<text x="70.8" y="218.8" xml:space="preserve">(a)  Λ = 2 fm<tspan font-size="9.5" dy="-7" dx="0.3">-1</tspan></text>
<text x="199.2" y="282.6" xml:space="preserve">k<tspan font-size="10.5" dy="4.2">F</tspan><tspan dy="-4.2"> [fm</tspan><tspan font-size="9.5" dy="-7" dx="0.4">-1</tspan><tspan dy="7" dx="0.3">]</tspan></text>
<text transform="translate(12.6,145.6) rotate(-90)" xml:space="preserve">E/E<tspan font-size="10.3" dy="4.2">FG</tspan></text>
</g>
<g fill="none"><path d="M346.5,22.8H384.9" stroke="#43A85C" stroke-width="2" stroke-dasharray="7.4 7"/>
<path d="M346.5,35.8H384.9" stroke="#0000FF" stroke-width="2" stroke-dasharray="3 3.1"/>
<path d="M346.5,48.3H384.9" stroke="#FF0000" stroke-width="2"/>
<path d="M346.5,61.1H384.9" stroke="#000" stroke-width="1.8" stroke-dasharray="11.7 5.9"/></g>
</svg>
</body></html>
